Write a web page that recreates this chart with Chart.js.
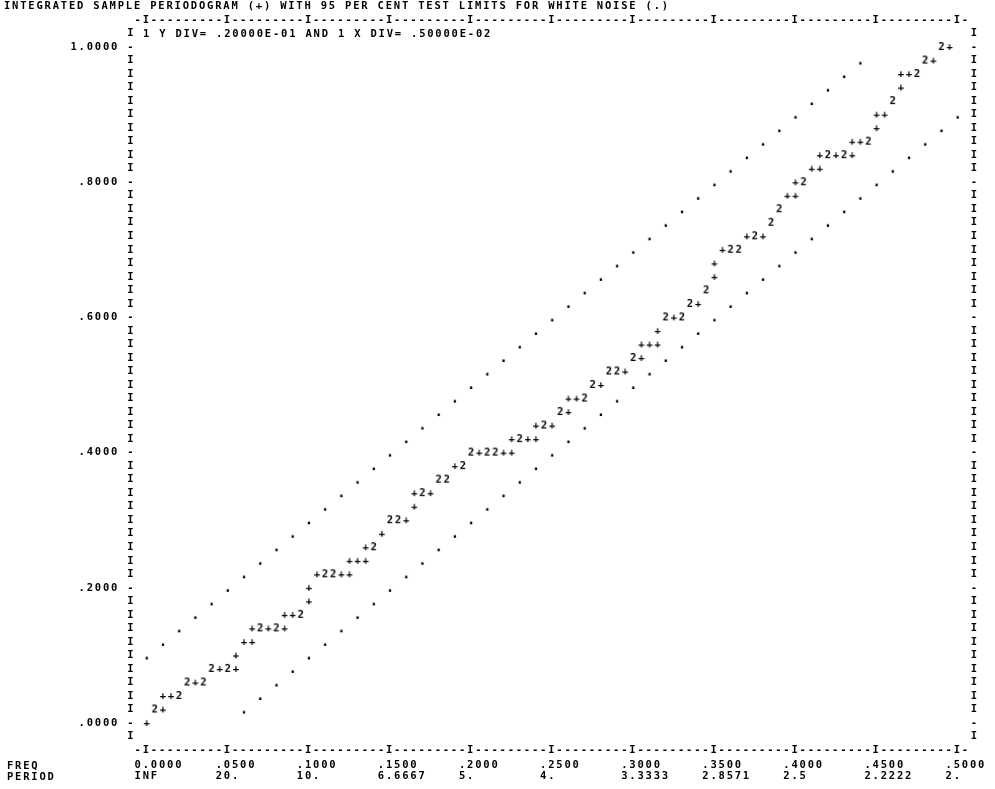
<!DOCTYPE html>
<html>
<head>
<meta charset="utf-8">
<title>Integrated sample periodogram</title>
<script src="https://cdn.jsdelivr.net/npm/chart.js@4.4.1/dist/chart.umd.min.js"></script>
<style>
  html, body { margin: 0; padding: 0; background: #fff; }
  #wrap { position: relative; width: 995px; height: 789px; overflow: hidden; }
  #wrap canvas { position: absolute; left: 0; top: 0; }
  .prt {
    position: absolute;
    font: bold 10.5px "DejaVu Sans Mono", "Liberation Mono", monospace;
    letter-spacing: 1.8px;
    line-height: 11px;
    color: #000;
    white-space: pre;
  }
</style>
</head>
<body>
<div id="wrap">
  <canvas id="chart" width="995" height="789"></canvas>
  <div class="prt" style="left:4px; top:0px">INTEGRATED SAMPLE PERIODOGRAM (+) WITH 95 PER CENT TEST LIMITS FOR WHITE NOISE (.)</div>
  <div class="prt" style="left:143px; top:28px">1 Y DIV= .20000E-01 AND 1 X DIV= .50000E-02</div>
  <div class="prt" style="left:7px; top:760px">FREQ
PERIOD</div>
</div>
<script>
// ------------------ Axis labels (as printed) ------------------
const FREQ_TICKS = [0, 0.05, 0.10, 0.15, 0.20, 0.25, 0.30, 0.35, 0.40, 0.45, 0.50];
const FREQ_LABELS = ["0.0000", ".0500", ".1000", ".1500", ".2000", ".2500", ".3000", ".3500", ".4000", ".4500", ".5000"];
const PERIOD_LABELS = ["INF", "20.", "10.", "6.6667", "5.", "4.", "3.3333", "2.8571", "2.5", "2.2222", "2."];
const Y_TICKS = [0, 0.2, 0.4, 0.6, 0.8, 1.0];
const Y_LABELS = [".0000", ".2000", ".4000", ".6000", ".8000", "1.0000"];

// ------------------ Integrated periodogram (+ = one point, 2 = two points in a cell) ------------------
const PLUS_FREQ = [
  0.000, 0.010, 0.010, 0.015, 0.030, 0.045, 0.055, 0.055, 0.060, 0.065,
  0.065, 0.075, 0.085, 0.085, 0.090, 0.100, 0.100, 0.105, 0.120, 0.125,
  0.125, 0.130, 0.135, 0.135, 0.145, 0.160, 0.165, 0.165, 0.175, 0.190,
  0.205, 0.220, 0.225, 0.225, 0.235, 0.240, 0.240, 0.250, 0.260, 0.260,
  0.265, 0.280, 0.295, 0.305, 0.305, 0.310, 0.315, 0.315, 0.325, 0.340,
  0.350, 0.350, 0.355, 0.370, 0.380, 0.395, 0.400, 0.400, 0.410, 0.415,
  0.415, 0.425, 0.435, 0.435, 0.440, 0.450, 0.450, 0.455, 0.465, 0.465,
  0.470, 0.485, 0.495
];
const PLUS_VALUE = [
  0.00, 0.02, 0.04, 0.04, 0.06, 0.08, 0.08, 0.10, 0.12, 0.12,
  0.14, 0.14, 0.14, 0.16, 0.16, 0.18, 0.20, 0.22, 0.22, 0.22,
  0.24, 0.24, 0.24, 0.26, 0.28, 0.30, 0.32, 0.34, 0.34, 0.38,
  0.40, 0.40, 0.40, 0.42, 0.42, 0.42, 0.44, 0.44, 0.46, 0.48,
  0.48, 0.50, 0.52, 0.54, 0.56, 0.56, 0.56, 0.58, 0.60, 0.62,
  0.66, 0.68, 0.70, 0.72, 0.72, 0.78, 0.78, 0.80, 0.82, 0.82,
  0.84, 0.84, 0.84, 0.86, 0.86, 0.88, 0.90, 0.90, 0.94, 0.96,
  0.96, 0.98, 1.00
];
const TWO_FREQ = [
  0.005, 0.020, 0.025, 0.035, 0.040, 0.050, 0.070, 0.080, 0.095, 0.110,
  0.115, 0.140, 0.150, 0.155, 0.170, 0.180, 0.185, 0.195, 0.200, 0.210,
  0.215, 0.230, 0.245, 0.255, 0.270, 0.275, 0.285, 0.290, 0.300, 0.320,
  0.330, 0.335, 0.345, 0.360, 0.365, 0.375, 0.385, 0.390, 0.405, 0.420,
  0.430, 0.445, 0.460, 0.475, 0.480, 0.490
];
const TWO_VALUE = [
  0.02, 0.04, 0.06, 0.06, 0.08, 0.08, 0.14, 0.14, 0.16, 0.22,
  0.22, 0.26, 0.30, 0.30, 0.34, 0.36, 0.36, 0.38, 0.40, 0.40,
  0.40, 0.42, 0.44, 0.46, 0.48, 0.50, 0.52, 0.52, 0.54, 0.60,
  0.60, 0.62, 0.64, 0.70, 0.70, 0.72, 0.74, 0.76, 0.80, 0.84,
  0.84, 0.86, 0.92, 0.96, 0.98, 1.00
];

// ------------------ 95 per cent limits for white noise (.) ------------------
const UPPER_FREQ = [
  0.00, 0.01, 0.02, 0.03, 0.04, 0.05, 0.06, 0.07, 0.08, 0.09,
  0.10, 0.11, 0.12, 0.13, 0.14, 0.15, 0.16, 0.17, 0.18, 0.19,
  0.20, 0.21, 0.22, 0.23, 0.24, 0.25, 0.26, 0.27, 0.28, 0.29,
  0.30, 0.31, 0.32, 0.33, 0.34, 0.35, 0.36, 0.37, 0.38, 0.39,
  0.40, 0.41, 0.42, 0.43, 0.44
];
const UPPER_VALUE = [
  0.10, 0.12, 0.14, 0.16, 0.18, 0.20, 0.22, 0.24, 0.26, 0.28,
  0.30, 0.32, 0.34, 0.36, 0.38, 0.40, 0.42, 0.44, 0.46, 0.48,
  0.50, 0.52, 0.54, 0.56, 0.58, 0.60, 0.62, 0.64, 0.66, 0.68,
  0.70, 0.72, 0.74, 0.76, 0.78, 0.80, 0.82, 0.84, 0.86, 0.88,
  0.90, 0.92, 0.94, 0.96, 0.98
];
const LOWER_FREQ = [
  0.06, 0.07, 0.08, 0.09, 0.10, 0.11, 0.12, 0.13, 0.14, 0.15,
  0.16, 0.17, 0.18, 0.19, 0.20, 0.21, 0.22, 0.23, 0.24, 0.25,
  0.26, 0.27, 0.28, 0.29, 0.30, 0.31, 0.32, 0.33, 0.34, 0.35,
  0.36, 0.37, 0.38, 0.39, 0.40, 0.41, 0.42, 0.43, 0.44, 0.45,
  0.46, 0.47, 0.48, 0.49, 0.50
];
const LOWER_VALUE = [
  0.02, 0.04, 0.06, 0.08, 0.10, 0.12, 0.14, 0.16, 0.18, 0.20,
  0.22, 0.24, 0.26, 0.28, 0.30, 0.32, 0.34, 0.36, 0.38, 0.40,
  0.42, 0.44, 0.46, 0.48, 0.50, 0.52, 0.54, 0.56, 0.58, 0.60,
  0.62, 0.64, 0.66, 0.68, 0.70, 0.72, 0.74, 0.76, 0.78, 0.80,
  0.82, 0.84, 0.86, 0.88, 0.90
];

// ------------------ Printer grid ------------------
const X_DIV = 0.005;                  // one print column
const Y_DIV = 0.02;                   // one print line
// plot area runs half a cell inside the frame characters, so the
// frame (drawn as tick labels) sits in the axis boxes and is not clipped
const X_MIN = -0.0075, X_MAX = 0.5075;
const Y_MIN = -0.03, Y_MAX = 1.03;

const FONT_FAMILY = "'DejaVu Sans Mono', 'Liberation Mono', monospace";
const FONT_SIZE = 10.5;
const LETTER_SP = 1.8;                // widen the mono font to the printer pitch

// ------------------ helpers ------------------
const toXY = (xs, ys) => xs.map((x, i) => ({ x, y: ys[i] }));
const near = (a, b) => Math.abs(a - b) < 1e-9;

// one printed character as a point style
function glyph(ch, size) {
  const c = document.createElement("canvas");
  c.width = 10;
  c.height = 16;
  const g = c.getContext("2d");
  g.font = `bold ${size || FONT_SIZE}px ${FONT_FAMILY}`;
  g.fillStyle = "#000";
  g.textAlign = "center";
  g.textBaseline = "middle";
  g.fillText(ch, 5, 8);
  return c;
}

// frame columns -1..101 and frame lines -1..51
function frameColumns(scale) {
  const t = [];
  for (let c = -1; c <= 101; c++) t.push({ value: c * X_DIV });
  scale.ticks = t;
}
function frameLines(scale) {
  const t = [];
  for (let k = -1; k <= 51; k++) t.push({ value: k * Y_DIV });
  scale.ticks = t;
}
function borderChar(v) {
  const c = Math.round(v / X_DIV);
  return (c >= 0 && c <= 100 && c % 10 === 0) ? "I" : "-";
}
// printed labels start one column left of the tick; pad so centre = tick
function padLabel(s) {
  const n = s.length;
  return n >= 3 ? " ".repeat(n - 3) + s : s + " ".repeat(3 - n);
}

const tickFont = { family: FONT_FAMILY, size: FONT_SIZE, weight: "bold", lineHeight: 1 };
const noGrid = { display: false, drawTicks: false };
const baseTicks = { color: "#000", font: tickFont, autoSkip: false, maxRotation: 0, minRotation: 0 };

const printerPitch = {
  id: "printerPitch",
  beforeDraw(chart) { chart.ctx.letterSpacing = LETTER_SP + "px"; }
};

// ------------------ Build chart ------------------
const datasets = [
  { label: "+", data: toXY(PLUS_FREQ, PLUS_VALUE), pointStyle: glyph("+") },
  { label: "2", data: toXY(TWO_FREQ, TWO_VALUE), pointStyle: glyph("2") },
  { label: "upper", data: toXY(UPPER_FREQ, UPPER_VALUE), pointStyle: glyph(".", 14) },
  { label: "lower", data: toXY(LOWER_FREQ, LOWER_VALUE), pointStyle: glyph(".", 14) }
].map(d => Object.assign(d, { showLine: false, pointRadius: 4, clip: false }));

new Chart(document.getElementById("chart").getContext("2d"), {
  type: "scatter",
  data: { datasets },
  options: {
    responsive: false,
    animation: false,
    events: [],
    layout: { padding: 0 },
    plugins: { legend: { display: false }, tooltip: { enabled: false } },
    scales: {
      // bottom frame line  -I---------I ... I-
      x: {
        type: "linear", position: "bottom", min: X_MIN, max: X_MAX, weight: 0,
        grid: noGrid, border: { display: false },
        ticks: { ...baseTicks, padding: 1.45, callback: borderChar },
        afterBuildTicks: frameColumns,
        afterFit: s => { s.height = 14.7; }
      },
      // FREQ / PERIOD labels
      xl: {
        type: "linear", axis: "x", position: "bottom", min: X_MIN, max: X_MAX, weight: 1,
        grid: noGrid, border: { display: false },
        ticks: {
          ...baseTicks, font: { ...tickFont, lineHeight: "11px" }, padding: 2,
          callback: (v, i) => [padLabel(FREQ_LABELS[i]), padLabel(PERIOD_LABELS[i])]
        },
        afterBuildTicks: s => { s.ticks = FREQ_TICKS.map(v => ({ value: v })); },
        afterFit: s => { s.height = 31; }
      },
      // top frame line
      xt: {
        type: "linear", axis: "x", position: "top", min: X_MIN, max: X_MAX,
        grid: noGrid, border: { display: false },
        ticks: { ...baseTicks, padding: 1.45, callback: borderChar },
        afterBuildTicks: frameColumns,
        afterFit: s => { s.height = 26.7; }
      },
      // left frame column with value labels
      y: {
        type: "linear", position: "left", min: Y_MIN, max: Y_MAX,
        grid: noGrid, border: { display: false },
        ticks: {
          ...baseTicks, padding: -0.86,
          callback: v => {
            const i = Y_TICKS.findIndex(t => near(t, v));
            return i >= 0 ? Y_LABELS[i] + " -" : "I";
          }
        },
        afterBuildTicks: frameLines,
        afterFit: s => { s.width = 134.6; }
      },
      // right frame column
      yr: {
        type: "linear", axis: "y", position: "right", min: Y_MIN, max: Y_MAX,
        grid: noGrid, border: { display: false },
        ticks: {
          ...baseTicks, padding: 0.94,
          callback: v => (Y_TICKS.some(t => near(t, v)) ? "-" : "I")
        },
        afterBuildTicks: frameLines,
        afterFit: s => { s.width = 25.1; }
      }
    }
  },
  plugins: [printerPitch]
});
</script>
</body>
</html>
